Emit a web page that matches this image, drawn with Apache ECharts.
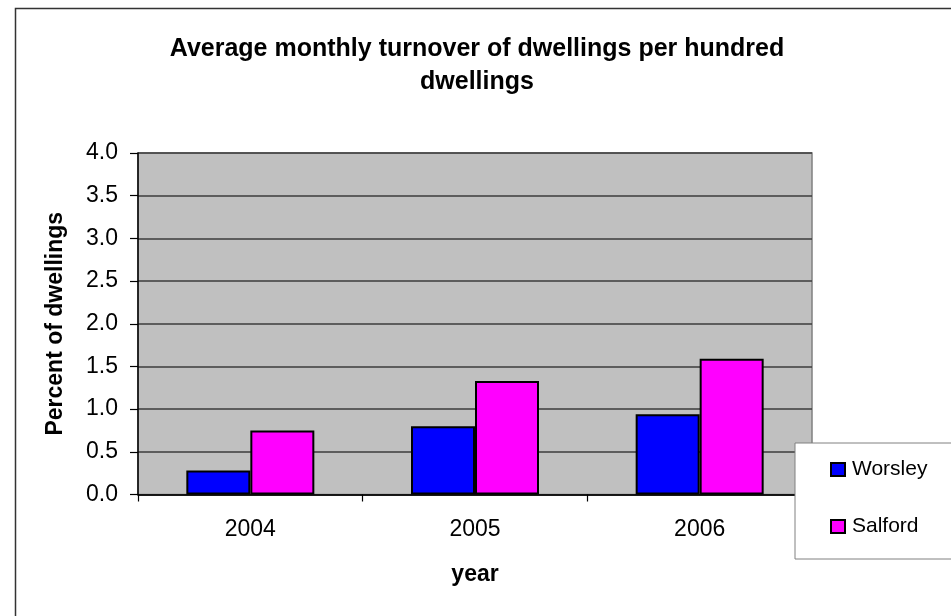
<!DOCTYPE html>
<html>
<head>
<meta charset="utf-8">
<script src="https://cdn.jsdelivr.net/npm/echarts@6/dist/echarts.min.js"></script>
<style>
html,body{margin:0;padding:0;background:#fff;}
#chart{width:951px;height:616px;}
</style>
</head>
<body>
<div id="chart"></div>
<script>
var categories = ['2004', '2005', '2006'];
var worsley = [0.28, 0.80, 0.94];
var salford = [0.75, 1.33, 1.59];
var seriesNames = ['Worsley', 'Salford'];
var yTicks = [0, 0.5, 1.0, 1.5, 2.0, 2.5, 3.0, 3.5, 4.0];

var FONT = '"Liberation Sans", Arial, sans-serif';
var chart = echarts.init(document.getElementById('chart'), null, {renderer: 'canvas'});
chart.setOption({
  backgroundColor: '#ffffff',
  animation: false,
  graphic: [{
    type: 'rect',
    left: 13, top: 6,
    shape: {x: 0, y: 0, width: 1000, height: 700},
    style: {fill: 'none', stroke: '#333333', lineWidth: 1.5},
    z: -10
  }],
  title: {
    text: 'Average monthly turnover of dwellings per hundred\ndwellings',
    left: 472,
    top: 28,
    textAlign: 'center',
    textStyle: {fontFamily: FONT, fontSize: 25, fontWeight: 'bold', color: '#000', lineHeight: 33}
  },
  legend: {
    orient: 'vertical',
    left: 795,
    top: 443,
    data: seriesNames,
    padding: [16, 40, 22, 35],
    itemGap: 36,
    itemWidth: 14,
    itemHeight: 13,
    backgroundColor: '#ffffff',
    borderColor: '#808080',
    borderWidth: 1,
    borderRadius: 0,
    icon: 'rect',
    textStyle: {fontFamily: FONT, fontSize: 21, color: '#000', padding: [0, 0, 0, 2]},
    z: 20
  },
  grid: {
    left: 138, top: 153, right: 139, bottom: 121.5,
    show: true,
    backgroundColor: '#C0C0C0',
    borderColor: '#808080',
    borderWidth: 1.5,
    containLabel: false
  },
  xAxis: {
    type: 'category',
    data: categories,
    name: 'year',
    nameLocation: 'middle',
    nameGap: 69,
    nameTextStyle: {fontFamily: FONT, fontSize: 23, fontWeight: 'bold', color: '#000'},
    axisLine: {show: true, lineStyle: {color: '#000', width: 1.5}},
    axisTick: {show: true, length: 7, lineStyle: {color: '#000', width: 1.2}},
    axisLabel: {fontFamily: FONT, fontSize: 23, color: '#000', margin: 24},
    splitLine: {show: false}
  },
  yAxis: {
    type: 'value',
    min: 0, max: 4, interval: 0.5,
    name: 'Percent of dwellings',
    nameLocation: 'middle',
    nameGap: 71,
    nameRotate: 90,
    nameTextStyle: {fontFamily: FONT, fontSize: 23, fontWeight: 'bold', color: '#000'},
    axisLine: {show: true, lineStyle: {color: '#000', width: 1.5}},
    axisTick: {show: true, length: 8, lineStyle: {color: '#000', width: 1.2}},
    axisLabel: {
      fontFamily: FONT, fontSize: 23, color: '#000', margin: 20,
      formatter: function (v) { return yTicks.indexOf(v) >= 0 ? v.toFixed(1) : ''; }
    },
    splitLine: {show: true, lineStyle: {color: '#3c3c3c', width: 1.5}}
  },
  series: [{
    name: seriesNames[0],
    type: 'bar',
    data: worsley,
    barWidth: 64,
    barGap: '0%',
    itemStyle: {color: '#0000FF', borderColor: '#000', borderWidth: 2}
  }, {
    name: seriesNames[1],
    type: 'bar',
    data: salford,
    barWidth: 64,
    barGap: '0%',
    itemStyle: {color: '#FF00FF', borderColor: '#000', borderWidth: 2}
  }]
});
</script>
</body>
</html>
